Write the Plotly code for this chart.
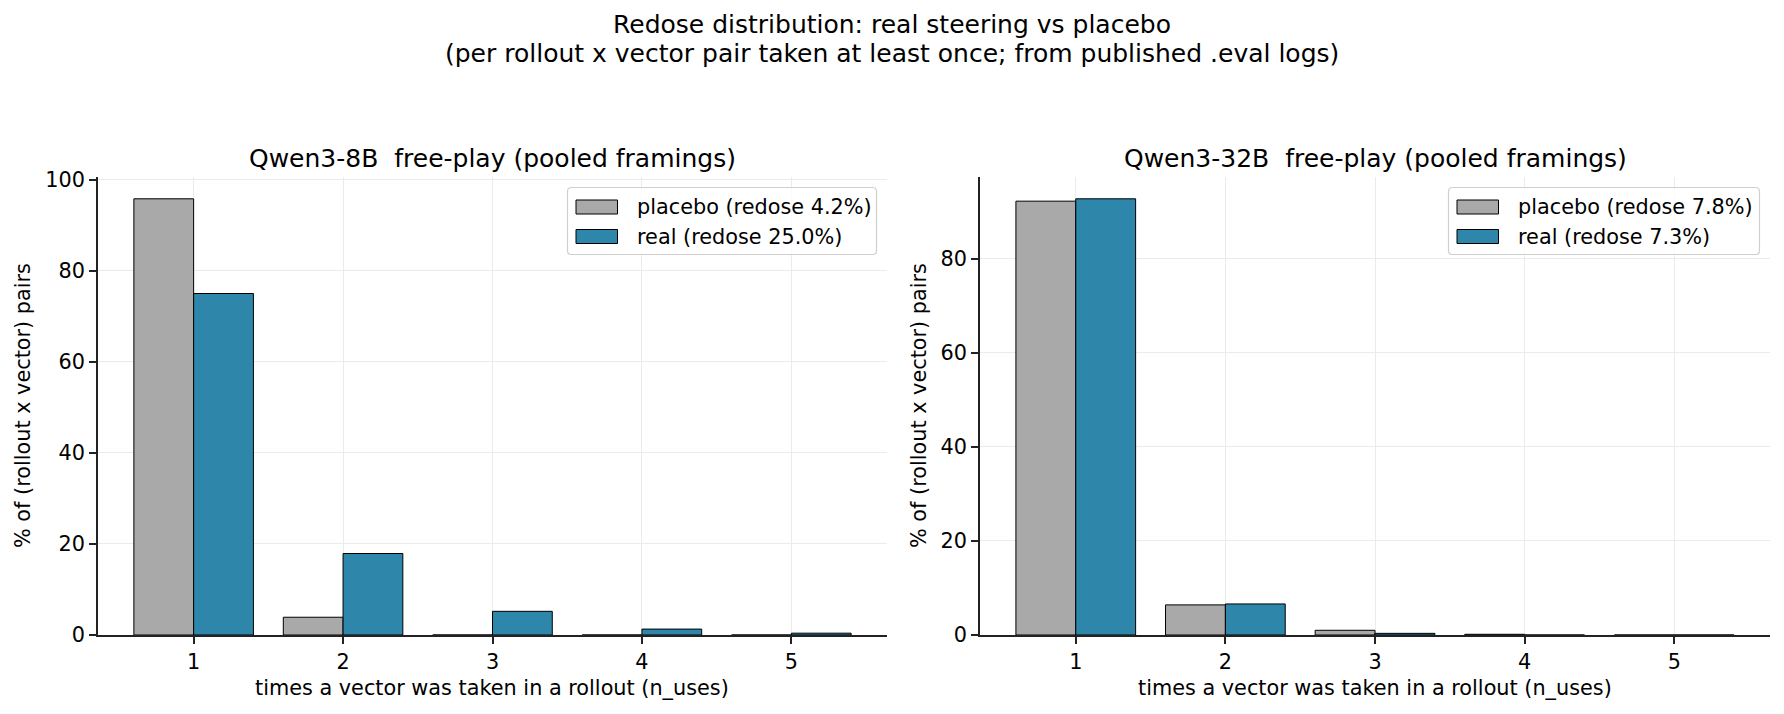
import plotly.graph_objects as go

# ---------------- data ----------------
n_uses = [1, 2, 3, 4, 5]

panel_titles = ["Qwen3-8B  free-play (pooled framings)", "Qwen3-32B  free-play (pooled framings)"]

placebo_8b = [95.8, 3.9, 0.0, 0.0, 0.0]
real_8b = [75.0, 17.9, 5.2, 1.3, 0.4]
placebo_32b = [92.2, 6.4, 1.0, 0.15, 0.0]
real_32b = [92.7, 6.6, 0.35, 0.0, 0.0]

redose_placebo = [4.2, 7.8]
redose_real = [25.0, 7.3]

y_ticks_8b = [0, 20, 40, 60, 80, 100]
y_ticks_32b = [0, 20, 40, 60, 80]

series_names = ["placebo", "real"]
colors = {"placebo": "#a9a9a9", "real": "#2e86ab"}

suptitle_lines = [
    "Redose distribution: real steering vs placebo",
    "(per rollout x vector pair taken at least once; from published .eval logs)",
]
xlabel = "times a vector was taken in a rollout (n_uses)"
ylabel = "% of (rollout x vector) pairs"

# ---------------- layout helpers ----------------
W, H = 1784, 714
FONT = "DejaVu Sans"
TICK_FS = 20.8
TITLE_FS = 25

def px(x):
    return x / W

def py(y):
    return (H - y) / H

axes_px = [(98, 177, 887, 635), (980, 177, 1770, 635)]

fig = go.Figure()

panels = [
    (placebo_8b, real_8b, y_ticks_8b),
    (placebo_32b, real_32b, y_ticks_32b),
]

shapes = []
annotations = []

for i, (pl, rl, yt) in enumerate(panels):
    xa = "x" if i == 0 else "x2"
    ya = "y" if i == 0 else "y2"
    for name, vals in zip(series_names, [pl, rl]):
        fig.add_trace(go.Bar(
            x=n_uses, y=vals, name=name,
            marker=dict(color=colors[name], line=dict(color="#000000", width=1)),
            xaxis=xa, yaxis=ya, showlegend=False,
        ))
    x0, y0, x1, y1 = axes_px[i]
    ymax = max(max(pl), max(rl)) * 1.05
    axis_common = dict(
        showline=True, linecolor="#222222", linewidth=1.6,
        ticks="outside", ticklen=7, tickwidth=1.6, tickcolor="#222222",
        showgrid=True, gridcolor="#ebebeb", gridwidth=1,
        zeroline=False, mirror=False, automargin=False,
        tickfont=dict(family=FONT, size=TICK_FS, color="#000000"),
    )
    xkey = "xaxis" if i == 0 else "xaxis2"
    ykey = "yaxis" if i == 0 else "yaxis2"
    fig.update_layout(**{
        xkey: dict(domain=[px(x0), px(x1)], range=[0.36, 5.64],
                   tickmode="array", tickvals=n_uses, ticktext=[str(v) for v in n_uses],
                   anchor=ya, **axis_common),
        ykey: dict(domain=[py(y1), py(y0)], range=[0, ymax],
                   tickmode="array", tickvals=yt, ticktext=[str(v) for v in yt],
                   anchor=xa, **axis_common),
    })

    # subplot title
    annotations.append(dict(text=panel_titles[i], x=px((x0 + x1) / 2), y=py(158),
                            xref="paper", yref="paper", xanchor="center", yanchor="middle",
                            showarrow=False, font=dict(family=FONT, size=TITLE_FS, color="#000")))
    # x label
    annotations.append(dict(text=xlabel, x=px((x0 + x1) / 2), y=py(688),
                            xref="paper", yref="paper", xanchor="center", yanchor="middle",
                            showarrow=False, font=dict(family=FONT, size=TICK_FS, color="#000")))
    # y label
    ylx = 23 if i == 0 else 919
    annotations.append(dict(text=ylabel, x=px(ylx), y=py((y0 + y1) / 2), textangle=-90,
                            xref="paper", yref="paper", xanchor="center", yanchor="middle",
                            showarrow=False, font=dict(family=FONT, size=TICK_FS, color="#000")))

    # legend (upper right)
    lw = 309 if i == 0 else 311
    lx1 = x1 - 10.5
    lx0 = lx1 - lw
    ly0 = y0 + 10.5
    ly1 = ly0 + 67
    r = 4
    path = (f"M {px(lx0 + r)},{py(ly0)} L {px(lx1 - r)},{py(ly0)} "
            f"Q {px(lx1)},{py(ly0)} {px(lx1)},{py(ly0 + r)} "
            f"L {px(lx1)},{py(ly1 - r)} Q {px(lx1)},{py(ly1)} {px(lx1 - r)},{py(ly1)} "
            f"L {px(lx0 + r)},{py(ly1)} Q {px(lx0)},{py(ly1)} {px(lx0)},{py(ly1 - r)} "
            f"L {px(lx0)},{py(ly0 + r)} Q {px(lx0)},{py(ly0)} {px(lx0 + r)},{py(ly0)} Z")
    shapes.append(dict(type="path", path=path, xref="paper", yref="paper",
                       fillcolor="rgba(255,255,255,0.8)", line=dict(color="#d0d0d0", width=1.2),
                       layer="above"))
    labels = [f"placebo (redose {redose_placebo[i]:.1f}%)", f"real (redose {redose_real[i]:.1f}%)"]
    for k, (name, lab) in enumerate(zip(series_names, labels)):
        cy = ly0 + 19.5 + k * 29.5
        shapes.append(dict(type="rect", xref="paper", yref="paper",
                           x0=px(lx0 + 8.5), x1=px(lx0 + 50), y0=py(cy - 7), y1=py(cy + 7),
                           fillcolor=colors[name], line=dict(color="#000", width=1), layer="above"))
        annotations.append(dict(text=lab, x=px(lx0 + 67), y=py(cy), xref="paper", yref="paper",
                                xanchor="left", yanchor="middle", showarrow=False,
                                font=dict(family=FONT, size=TICK_FS, color="#000")))

# suptitle
for line, yy in zip(suptitle_lines, [25, 53.5]):
    annotations.append(dict(text=line, x=px(892), y=py(yy), xref="paper", yref="paper",
                            xanchor="center", yanchor="middle", showarrow=False,
                            font=dict(family=FONT, size=TITLE_FS, color="#000")))

fig.update_layout(
    width=W, height=H, autosize=False,
    margin=dict(l=0, r=0, t=0, b=0, pad=0, autoexpand=False),
    paper_bgcolor="white", plot_bgcolor="white",
    barmode="group", bargap=0.2, bargroupgap=0,
    shapes=shapes, annotations=annotations,
    font=dict(family=FONT, color="#000"),
    showlegend=False,
)

fig.write_html("out.html")
